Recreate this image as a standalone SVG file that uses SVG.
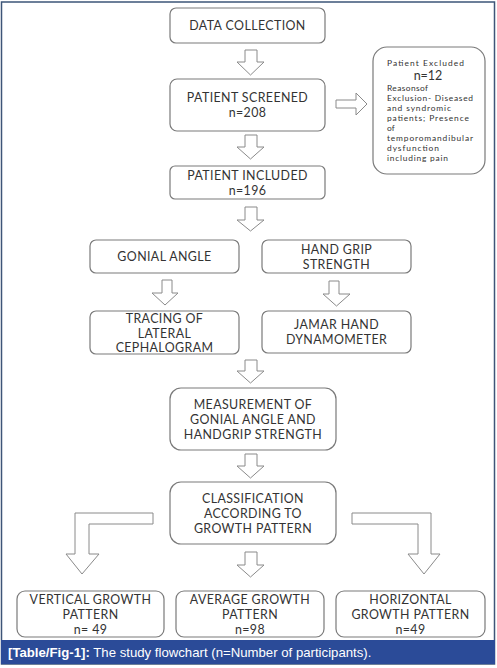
<svg xmlns="http://www.w3.org/2000/svg" width="497" height="668" viewBox="0 0 497 668">
<style>
.box{fill:#fff;stroke:#7a7a7a;stroke-width:1.2}
.arr{fill:#fff;stroke:#8a8a8a;stroke-width:1}
.t{font-family:Lato,"Open Sans",sans-serif;font-size:12.4px;fill:#333;text-anchor:middle;letter-spacing:0.4px}
.s{font-family:Lato,"Liberation Sans",sans-serif;font-size:8.4px;fill:#333}
.n12{font-family:Lato,"Liberation Sans",sans-serif;font-size:12.5px;fill:#333;text-anchor:middle}
.cap{font-family:"Liberation Sans",Arial,sans-serif;font-size:13.2px;fill:#fff}
</style>
<rect x="0" y="0" width="497" height="668" fill="#fff"/>
<rect x="1.5" y="2" width="493" height="662" fill="none" stroke="#3d5578" stroke-width="1.5"/>
<rect x="1" y="640" width="494" height="24" fill="#2b4b98"/>
<text class="cap" x="8" y="657"><tspan font-weight="bold">[Table/Fig-1]:</tspan> The study flowchart (n=Number of participants).</text>

<g id="connectors">
<path class="arr" d="M245,50 H257 V62 H264 L250.5,75 L237,62 H245 Z"/>
<path class="arr" d="M245,135 H257 V147 H264 L250.5,159 L237,147 H245 Z"/>
<path class="arr" d="M245,207 H257 V220 H264 L250.5,231 L237,220 H245 Z"/>
<path class="arr" d="M336,100 H356 V93 L367,104 L356,115 V108 H336 Z"/>
<path class="arr" d="M162,280 H172 V293 H178 L165,305 L152,293 H162 Z"/>
<path class="arr" d="M329,281 H339 V294 H350 L336.5,306 L323,294 H329 Z"/>
<path class="arr" d="M245,360 H257 V371 H264 L250.5,383 L237,371 H245 Z"/>
<path class="arr" d="M245,454 H257 V466 H264 L250.5,478 L237,466 H245 Z"/>
<path class="arr" d="M245,552 H257 V565 H264 L250.5,577 L237,565 H245 Z"/>
<path class="arr" d="M153,513 V524 H89 V554 H99 L82,574 L66,554 H75 V513 Z"/>
<path class="arr" d="M352,513 V524 H418 V554 H408 L424,574 L440,554 H431 V513 Z"/>
</g>

<g id="data-collection">
<rect class="box" x="170" y="8" width="155" height="35" rx="6"/>
<text class="t" x="247.5" y="30">DATA COLLECTION</text>
</g>
<g id="patient-screened">
<rect class="box" x="170" y="79" width="155" height="52" rx="7"/>
<text class="t" x="247.5" y="102">PATIENT SCREENED</text>
<text class="t" x="247.5" y="117">n=208</text>
</g>
<g id="patient-excluded">
<rect class="box" x="373" y="47" width="112" height="127" rx="14"/>
<text class="s" x="387" y="66" textLength="77" lengthAdjust="spacing">Patient Excluded</text>
<text class="n12" x="428" y="80">n=12</text>
<text class="s" x="387" y="91" textLength="41" lengthAdjust="spacing">Reasonsof</text>
<text class="s" x="387" y="101" textLength="86" lengthAdjust="spacing">Exclusion- Diseased</text>
<text class="s" x="387" y="111" textLength="64" lengthAdjust="spacing">and syndromic</text>
<text class="s" x="387" y="121" textLength="82" lengthAdjust="spacing">patients; Presence</text>
<text class="s" x="387" y="131">of</text>
<text class="s" x="387" y="141" textLength="86" lengthAdjust="spacing">temporomandibular</text>
<text class="s" x="387" y="151" textLength="52" lengthAdjust="spacing">dysfunction</text>
<text class="s" x="387" y="161" textLength="61" lengthAdjust="spacing">including pain</text>
</g>
<g id="patient-included">
<rect class="box" x="170" y="166" width="155" height="33" rx="5"/>
<text class="t" x="247.5" y="180">PATIENT INCLUDED</text>
<text class="t" x="247.5" y="195">n=196</text>
</g>
<g id="gonial-angle">
<rect class="box" x="90" y="240" width="149" height="33" rx="6"/>
<text class="t" x="164.5" y="261">GONIAL ANGLE</text>
</g>
<g id="hand-grip">
<rect class="box" x="262" y="240" width="149" height="33" rx="6"/>
<text class="t" x="336.5" y="254">HAND GRIP</text>
<text class="t" x="336.5" y="269">STRENGTH</text>
</g>
<g id="tracing">
<rect class="box" x="90" y="311" width="149" height="43" rx="6"/>
<text class="t" x="164.5" y="323">TRACING OF</text>
<text class="t" x="164.5" y="338">LATERAL</text>
<text class="t" x="164.5" y="352">CEPHALOGRAM</text>
</g>
<g id="jamar">
<rect class="box" x="262" y="311" width="149" height="42" rx="6"/>
<text class="t" x="336.5" y="329">JAMAR HAND</text>
<text class="t" x="336.5" y="344">DYNAMOMETER</text>
</g>
<g id="measurement">
<rect class="box" x="170" y="388" width="166" height="62" rx="11"/>
<text class="t" x="253" y="409">MEASUREMENT OF</text>
<text class="t" x="253" y="424">GONIAL ANGLE AND</text>
<text class="t" x="253" y="439">HANDGRIP STRENGTH</text>
</g>
<g id="classification">
<rect class="box" x="170" y="482" width="166" height="62" rx="11"/>
<text class="t" x="253" y="503">CLASSIFICATION</text>
<text class="t" x="253" y="518">ACCORDING TO</text>
<text class="t" x="253" y="533">GROWTH PATTERN</text>
</g>
<g id="vertical">
<rect class="box" x="17" y="591" width="147" height="46" rx="8"/>
<text class="t" x="90.5" y="604">VERTICAL GROWTH</text>
<text class="t" x="90.5" y="619">PATTERN</text>
<text class="t" x="90.5" y="634">n= 49</text>
</g>
<g id="average">
<rect class="box" x="176" y="591" width="148" height="46" rx="8"/>
<text class="t" x="250" y="604">AVERAGE GROWTH</text>
<text class="t" x="250" y="619">PATTERN</text>
<text class="t" x="250" y="634">n=98</text>
</g>
<g id="horizontal">
<rect class="box" x="336" y="591" width="149" height="46" rx="8"/>
<text class="t" x="410.5" y="604">HORIZONTAL</text>
<text class="t" x="410.5" y="619">GROWTH PATTERN</text>
<text class="t" x="410.5" y="634">n=49</text>
</g>
</svg>
